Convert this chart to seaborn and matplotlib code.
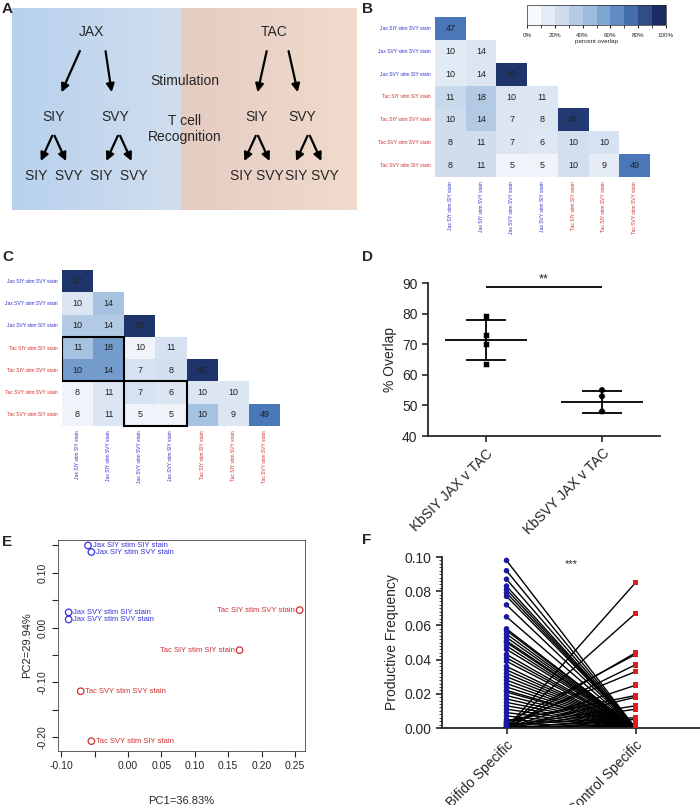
import numpy as np
import matplotlib
matplotlib.use("Agg")
import matplotlib.pyplot as plt
import seaborn as sns
from matplotlib.colors import LinearSegmentedColormap, ListedColormap, BoundaryNorm

# ---- data ----
row_labels = ["Jax SIY stim SVY stain", "Jax SVY stim SVY stain", "Jax SVY stim SIY stain",
              "Tac SIY stim SIY stain", "Tac SIY stim SVY stain", "Tac SVY stim SVY stain",
              "Tac SVY stim SIY stain"]
col_labels = ["Jax SIY stim SIY stain", "Jax SIY stim SVY stain", "Jax SVY stim SVY stain",
              "Jax SVY stim SIY stain", "Tac SIY stim SIY stain", "Tac SIY stim SVY stain",
              "Tac SVY stim SVY stain"]
overlap_counts = [
    [47, 0, 0, 0, 0, 0, 0],
    [10, 14, 0, 0, 0, 0, 0],
    [10, 14, 93, 0, 0, 0, 0],
    [11, 18, 10, 11, 0, 0, 0],
    [10, 14, 7, 8, 45, 0, 0],
    [8, 11, 7, 6, 10, 10, 0],
    [8, 11, 5, 5, 10, 9, 49],
]
shade_b = [
    [75, 0, 0, 0, 0, 0, 0],
    [12, 15, 0, 0, 0, 0, 0],
    [12, 15, 97, 0, 0, 0, 0],
    [25, 35, 15, 15, 0, 0, 0],
    [22, 35, 15, 15, 95, 0, 0],
    [22, 22, 15, 14, 20, 18, 0],
    [22, 22, 4, 4, 20, 10, 75],
]
shade_c = [
    [97, 0, 0, 0, 0, 0, 0],
    [15, 40, 0, 0, 0, 0, 0],
    [35, 35, 97, 0, 0, 0, 0],
    [40, 60, 4, 18, 0, 0, 0],
    [60, 60, 18, 20, 97, 0, 0],
    [4, 15, 18, 15, 15, 15, 0],
    [4, 15, 4, 4, 40, 15, 75],
]

pca_labels = ["Jax SIY stim SIY stain", "Jax SIY stim SVY stain", "Jax SVY stim SIY stain",
              "Jax SVY stim SVY stain", "Tac SIY stim SVY stain", "Tac SIY stim SIY stain",
              "Tac SVY stim SVY stain", "Tac SVY stim SIY stain"]
pc1 = [-0.060, -0.055, -0.089, -0.089, 0.257, 0.167, -0.071, -0.055]
pc2 = [0.150, 0.138, 0.028, 0.015, 0.032, -0.041, -0.116, -0.207]

d_groups = ["KbSIY JAX v TAC", "KbSVY JAX v TAC"]
d_siy = [79, 73, 70, 63.5]
d_svy = [55, 53, 48, 48]

bifido = [0.098, 0.092, 0.087, 0.083, 0.081, 0.079, 0.077, 0.072, 0.065, 0.058, 0.057,
          0.055, 0.053, 0.051, 0.050, 0.048, 0.046, 0.043, 0.041, 0.039, 0.036, 0.034,
          0.032, 0.030, 0.028, 0.026, 0.024, 0.022, 0.021, 0.019, 0.017, 0.015, 0.013,
          0.011, 0.009, 0.007, 0.005, 0.003, 0.001,
          0.0, 0.0, 0.0, 0.003, 0.0, 0.002, 0.0, 0.004, 0.0, 0.001, 0.0, 0.002, 0.0, 0.0]
control = [0.0] * 39 + [0.085, 0.067, 0.044, 0.043, 0.037, 0.033, 0.025, 0.019, 0.018,
                        0.013, 0.011, 0.006, 0.005, 0.002]

W, H = 700, 805
fig = plt.figure(figsize=(7, 8.05), dpi=100)
sns.set_style("white")
plt.rcParams['font.family'] = ['Liberation Sans', 'DejaVu Sans']


def ax_px(x0, y0, x1, y1):
    return fig.add_axes([x0 / W, 1 - y1 / H, (x1 - x0) / W, (y1 - y0) / H])


def label(x, y, s):
    fig.text(x / W, 1 - y / H, s, fontsize=11, fontweight="bold", va="top")


navy = "#1b2c63"
cm = LinearSegmentedColormap.from_list("ov", ["#f7f9fd", "#c9d9ec", "#8fb3d9", "#4a78b8", navy])
cm10 = ListedColormap([cm(i / 9) for i in range(10)])
norm10 = BoundaryNorm(np.linspace(0, 100, 11), 10)

# ---- A diagram ----
axA = ax_px(12, 8, 357, 210)
grad = np.linspace(0, 1, 100)[None, :]
axA.imshow(np.dstack([np.interp(grad, [0, 1], [0.72, 0.82]),
                      np.interp(grad, [0, 1], [0.82, 0.87]),
                      np.interp(grad, [0, 1], [0.93, 0.93])]),
           extent=[0, 0.49, 0, 1], aspect="auto")
axA.imshow(np.dstack([np.interp(grad, [0, 1], [0.90, 0.94]),
                      np.interp(grad, [0, 1], [0.80, 0.86]),
                      np.interp(grad, [0, 1], [0.76, 0.80])]),
           extent=[0.49, 1, 0, 1], aspect="auto")
axA.set_xlim(0, 1)
axA.set_ylim(0, 1)
axA.axis("off")
tkw = dict(fontsize=10, ha="center", va="center")
axA.text(0.23, 0.88, "JAX", **tkw)
axA.text(0.76, 0.88, "TAC", **tkw)
axA.text(0.50, 0.64, "Stimulation", **tkw)
axA.text(0.50, 0.40, "T cell\nRecognition", **tkw)
for x in [0.12, 0.30, 0.71, 0.84]:
    axA.text(x, 0.46, "SIY" if x in (0.12, 0.71) else "SVY", **tkw)
for x, s in [(0.12, "SIY  SVY"), (0.31, "SIY  SVY"), (0.71, "SIY SVY"), (0.87, "SIY SVY")]:
    axA.text(x, 0.17, s, **tkw)
akw = dict(arrowstyle="-|>", color="black", lw=1.6, mutation_scale=12)
for (x0, y0, x1, y1) in [(0.20, 0.80, 0.14, 0.57), (0.27, 0.80, 0.29, 0.57),
                         (0.74, 0.80, 0.71, 0.57), (0.80, 0.80, 0.83, 0.57)]:
    axA.annotate("", xy=(x1, y1), xytext=(x0, y0), arrowprops=akw)
for xc in [0.12, 0.31, 0.71, 0.86]:
    axA.annotate("", xy=(xc - 0.04, 0.23), xytext=(xc, 0.38), arrowprops=akw)
    axA.annotate("", xy=(xc + 0.04, 0.23), xytext=(xc, 0.38), arrowprops=akw)
label(2, 2, "A")


def tri_heatmap(ax, shade):
    vals = np.array(overlap_counts)
    mask = np.triu(np.ones_like(vals, dtype=bool), k=1)
    sns.heatmap(np.array(shade), mask=mask, annot=vals, fmt="d", cmap=cm, vmin=0, vmax=100,
                cbar=False, ax=ax, annot_kws={"fontsize": 6.5, "color": "#222222"},
                xticklabels=col_labels, yticklabels=row_labels)
    ax.tick_params(length=0, labelsize=3.6, pad=3)
    for t in ax.get_yticklabels():
        t.set_color("#3333cc" if t.get_text().startswith("Jax") else "#d03030")
        t.set_rotation(0)
    for t in ax.get_xticklabels():
        t.set_color("#3333cc" if t.get_text().startswith("Jax") else "#d03030")
        t.set_rotation(90)


# ---- B ----
axB = ax_px(435, 17, 650, 177)
tri_heatmap(axB, shade_b)
cax = ax_px(527, 5, 666, 25)
sm = plt.cm.ScalarMappable(norm=norm10, cmap=cm10)
cb = fig.colorbar(sm, cax=cax, orientation="horizontal", ticks=[0, 20, 40, 60, 80, 100])
cb.ax.set_xticklabels(["0%", "20%", "40%", "60%", "80%", "100%"])
cb.ax.tick_params(labelsize=4.5, length=2)
cb.set_label("percent overlap", fontsize=4.5, labelpad=1)
cb.outline.set_linewidth(0.5)
label(362, 2, "B")

# ---- C ----
axC = ax_px(62, 270, 280, 426)
tri_heatmap(axC, shade_c)
axC.add_patch(plt.Rectangle((0, 3), 2, 2, fill=False, lw=1.5, ec="black"))
axC.add_patch(plt.Rectangle((2, 5), 2, 2, fill=False, lw=1.5, ec="black", clip_on=False))
label(2, 250, "C")

# ---- D ----
axD = ax_px(428, 283, 660, 436)
xs = [0] * len(d_siy) + [1] * len(d_svy)
sns.scatterplot(x=xs, y=d_siy + d_svy, style=xs, markers=["s", "o"], color="black",
                s=22, legend=False, ax=axD)
for i, g in enumerate([d_siy, d_svy]):
    m, sd = np.mean(g), np.std(g, ddof=1)
    axD.hlines(m, i - 0.35, i + 0.35, color="black", lw=1.3)
    axD.hlines([m - sd, m + sd], i - 0.17, i + 0.17, color="black", lw=1.3)
    axD.vlines(i, m - sd, m + sd, color="black", lw=1.3)
axD.hlines(88.8, 0, 1, color="black", lw=1.3)
axD.text(0.5, 89.2, "**", ha="center", va="bottom", fontsize=9)
axD.set_xlim(-0.5, 1.5)
axD.set_ylim(40, 90)
axD.set_yticks([40, 50, 60, 70, 80, 90])
axD.set_xticks([0, 1])
axD.set_xticklabels(d_groups, rotation=45, ha="right", rotation_mode="anchor")
axD.set_ylabel("% Overlap", fontsize=10)
axD.tick_params(labelsize=10, length=4, width=1.2, direction="out", left=True, bottom=True)
sns.despine(ax=axD)
for s in ["left", "bottom"]:
    axD.spines[s].set_linewidth(1.3)
label(362, 250, "D")

# ---- E ----
axE = ax_px(58, 540, 305, 751)
ecol = ["#3333dd" if l.startswith("Jax") else "#d03030" for l in pca_labels]
axE.scatter(pc1, pc2, facecolors="none", edgecolors=ecol, s=22, lw=0.9)
for x, y, l, c in zip(pc1, pc2, pca_labels, ecol):
    right = x > 0.1
    axE.text(x + (-0.007 if right else 0.007), y, l, color=c, fontsize=5.5,
             ha="right" if right else "left", va="center")
axE.set_xlim(-0.105, 0.265)
axE.set_ylim(-0.225, 0.16)
axE.set_xticks([-0.10, -0.05, 0.00, 0.05, 0.10, 0.15, 0.20, 0.25])
axE.set_xticklabels(["-0.10", "", "0.00", "0.05", "0.10", "0.15", "0.20", "0.25"])
axE.set_yticks([-0.20, -0.15, -0.10, -0.05, 0.00, 0.05, 0.10, 0.15])
axE.set_yticklabels(["-0.20", "", "-0.10", "", "0.00", "", "0.10", ""], rotation=90, va="center")
axE.tick_params(labelsize=7.5, length=4, direction="out", left=True, bottom=True)
axE.set_xlabel("PC1=36.83%", fontsize=8, labelpad=18)
axE.set_ylabel("PC2=29.94%", fontsize=8)
for s in axE.spines.values():
    s.set_linewidth(0.6)
    s.set_color("#444444")
label(2, 535, "E")

# ---- F ----
axF = ax_px(442, 557, 700, 728)
for b, c in zip(bifido, control):
    axF.plot([0, 1], [b, c], color="black", lw=1.0, zorder=1)
sns.scatterplot(x=[0] * len(bifido), y=bifido, color="#1a1aa0", s=16, edgecolor="none",
                ax=axF, zorder=3)
sns.scatterplot(x=[1] * len(control), y=control, color="#dd1c1c", marker="s", s=16,
                edgecolor="none", ax=axF, zorder=3)
axF.text(0.5, 0.099, "***", ha="center", va="top", fontsize=8)
axF.set_xlim(-0.5, 1.5)
axF.set_ylim(0, 0.1)
axF.set_yticks([0, 0.02, 0.04, 0.06, 0.08, 0.10])
axF.set_yticklabels(["0.00", "0.02", "0.04", "0.06", "0.08", "0.10"])
axF.yaxis.set_minor_locator(matplotlib.ticker.MultipleLocator(0.002))
axF.set_xticks([0, 1])
axF.set_xticklabels(["Bifido Specific", "Control Specific"], rotation=45, ha="right",
                    rotation_mode="anchor")
axF.set_ylabel("Productive Frequency", fontsize=10)
axF.tick_params(labelsize=10, length=4, width=1.2, direction="out", left=True, bottom=True)
axF.tick_params(which="minor", length=2, left=True)
sns.despine(ax=axF)
for s in ["left", "bottom"]:
    axF.spines[s].set_linewidth(1.3)
label(362, 533, "F")

fig.savefig("out.png", dpi=100)
